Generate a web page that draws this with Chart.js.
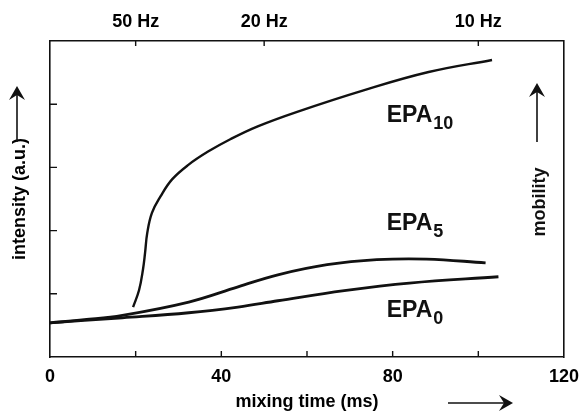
<!DOCTYPE html>
<html>
<head>
<meta charset="utf-8">
<script src="https://cdn.jsdelivr.net/npm/chart.js@4/dist/chart.umd.min.js"></script>
<style>
  html, body { margin: 0; padding: 0; background: #fff; }
  canvas { display: block; }
</style>
</head>
<body>
<canvas id="mixChart" width="588" height="414"></canvas>
<script>
// values (x = mixing time in ms, y = intensity a.u.)
const epa0X = [0, 8, 16.9, 32.4, 43.9, 53.2, 68.7, 83.9, 104.7];
const epa0Y = [0.54, 0.58, 0.62, 0.70, 0.79, 0.89, 1.05, 1.17, 1.27];

const epa5X = [0, 8, 16.9, 32.4, 43.9, 53.2, 64.7, 76.3, 87.9, 101.7];
const epa5Y = [0.54, 0.59, 0.66, 0.87, 1.11, 1.30, 1.46, 1.54, 1.55, 1.49];

const epa10X = [19.4, 20.8, 21.7, 22.2, 22.7, 23.8, 25.8, 28.5, 32.3, 36.9, 42.2, 48.5, 57.7, 73.2, 88.4, 103.2];
const epa10Y = [0.79, 1.06, 1.38, 1.65, 1.96, 2.28, 2.54, 2.81, 3.04, 3.25, 3.45, 3.65, 3.88, 4.22, 4.51, 4.70];

const freqTicks = [50, 20, 10]; // Hz, top axis
const curveLabels = [
    { main: "EPA", sub: "10", x: 78.6, y: 3.72 },
    { main: "EPA", sub: "5", x: 78.6, y: 2.01 },
    { main: "EPA", sub: "0", x: 78.6, y: 0.63 },
];

const FONT = "'Liberation Sans', Arial, sans-serif";
const INK = "#111";

function toPoints(xs, ys) {
    return xs.map((x, i) => ({ x: x, y: ys[i] }));
}

function arrow(ctx, x1, y1, x2, y2) {
    const a = Math.atan2(y2 - y1, x2 - x1);
    ctx.beginPath();
    ctx.moveTo(x1, y1);
    ctx.lineTo(x2 - 4 * Math.cos(a), y2 - 4 * Math.sin(a));
    ctx.stroke();
    ctx.save();
    ctx.translate(x2, y2);
    ctx.rotate(a);
    ctx.beginPath();
    ctx.moveTo(0, 0);
    ctx.lineTo(-14, -8);
    ctx.lineTo(-9, 0);
    ctx.lineTo(-14, 8);
    ctx.closePath();
    ctx.fill();
    ctx.restore();
}

const decorations = {
    id: "decorations",
    afterDraw(chart) {
        const { ctx, chartArea: a, scales } = chart;
        ctx.save();
        ctx.strokeStyle = INK;
        ctx.fillStyle = INK;
        ctx.lineWidth = 1.4;

        // inward tick marks
        ctx.beginPath();
        scales.x.ticks.forEach(t => {
            if (t.value <= 0 || t.value >= 120) return;
            const px = scales.x.getPixelForValue(t.value);
            ctx.moveTo(px, a.bottom);
            ctx.lineTo(px, a.bottom - 6);
        });
        scales.x2.ticks.forEach(t => {
            const px = scales.x2.getPixelForValue(t.value);
            ctx.moveTo(px, a.top);
            ctx.lineTo(px, a.top + 5);
        });
        scales.y.ticks.forEach(t => {
            if (t.value <= 0 || t.value >= 5) return;
            const py = scales.y.getPixelForValue(t.value);
            ctx.moveTo(a.left, py);
            ctx.lineTo(a.left + 7, py);
        });
        ctx.stroke();

        // arrows next to axis titles
        ctx.lineWidth = 1.6;
        arrow(ctx, 17, 142, 17, 86);
        arrow(ctx, 537, 142, 537, 83);
        arrow(ctx, 448, 403, 513, 403);

        // "mobility" reads upward inside the plot
        ctx.save();
        ctx.translate(540, 202);
        ctx.rotate(-Math.PI / 2);
        ctx.font = "bold 18px " + FONT;
        ctx.textAlign = "center";
        ctx.textBaseline = "middle";
        ctx.fillText("mobility", 0, 0);
        ctx.restore();

        // curve labels with subscripts
        curveLabels.forEach(l => {
            const px = scales.x.getPixelForValue(l.x);
            const py = scales.y.getPixelForValue(l.y);
            ctx.textAlign = "left";
            ctx.textBaseline = "alphabetic";
            ctx.font = "bold 23px " + FONT;
            ctx.fillText(l.main, px, py);
            const w = ctx.measureText(l.main).width;
            ctx.font = "bold 18px " + FONT;
            ctx.fillText(l.sub, px + w + 1, py + 7);
        });
        ctx.restore();
    },
};

const lineStyle = {
    borderColor: INK,
    borderWidth: 2.8,
    pointRadius: 0,
    fill: false,
    tension: 0.4,
};

new Chart(document.getElementById("mixChart"), {
    type: "line",
    data: {
        datasets: [
            Object.assign({ label: "EPA0", data: toPoints(epa0X, epa0Y) }, lineStyle),
            Object.assign({ label: "EPA5", data: toPoints(epa5X, epa5Y) }, lineStyle),
            Object.assign({ label: "EPA10", data: toPoints(epa10X, epa10Y) }, lineStyle, { borderWidth: 2.4 }),
        ],
    },
    options: {
        responsive: false,
        animation: false,
        layout: { padding: 0 },
        plugins: {
            legend: { display: false },
            tooltip: { enabled: false },
        },
        scales: {
            x: {
                type: "linear",
                position: "bottom",
                min: 0,
                max: 120,
                afterFit: s => { s.height = 57; },
                grid: { display: false, drawTicks: false },
                border: { display: true, color: INK, width: 1.6 },
                ticks: {
                    stepSize: 20,
                    padding: 9,
                    maxRotation: 0,
                    autoSkip: false,
                    color: "#000",
                    font: { family: FONT, size: 18, weight: "bold" },
                    callback: v => (v % 40 === 0 ? v : ""),
                },
                title: {
                    display: true,
                    text: "mixing time (ms)",
                    color: "#000",
                    font: { family: FONT, size: 18, weight: "bold" },
                    padding: { top: 0, bottom: 1 },
                },
            },
            x2: {
                type: "linear",
                position: "top",
                min: 0,
                max: 120,
                afterFit: s => { s.height = 41; },
                afterBuildTicks: s => {
                    s.ticks = freqTicks.map(f => ({ value: 1000 / f }));
                },
                grid: { display: false, drawTicks: false },
                border: { display: true, color: INK, width: 1.6 },
                ticks: {
                    padding: 8,
                    maxRotation: 0,
                    autoSkip: false,
                    color: "#000",
                    font: { family: FONT, size: 18, weight: "bold" },
                    callback: v => Math.round(1000 / v) + " Hz",
                },
            },
            y: {
                position: "left",
                min: 0,
                max: 5,
                afterFit: s => { s.width = 50; },
                grid: { display: false, drawTicks: false },
                border: { display: true, color: INK, width: 1.6 },
                ticks: { stepSize: 1, display: false },
                title: {
                    display: true,
                    text: "intensity (a.u.)",
                    color: "#000",
                    font: { family: FONT, size: 18, weight: "bold" },
                    padding: { top: 9, bottom: 0 },
                },
            },
            y2: {
                position: "right",
                min: 0,
                max: 5,
                afterFit: s => { s.width = 18; },
                grid: { display: false, drawTicks: false },
                border: { display: true, color: INK, width: 1.6 },
                ticks: { display: false },
            },
        },
    },
    plugins: [decorations],
});
</script>
</body>
</html>
